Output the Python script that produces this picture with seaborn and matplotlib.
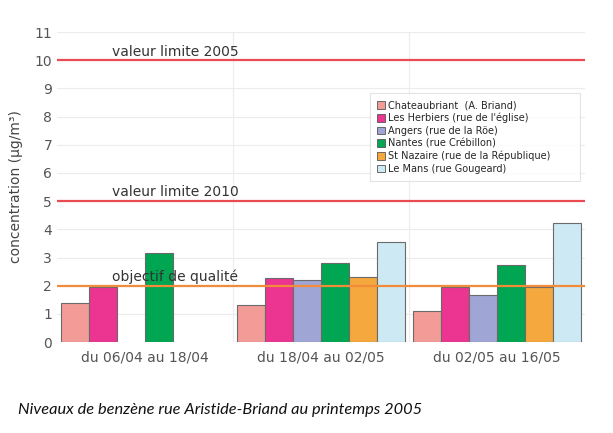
import pandas as pd
import matplotlib.pyplot as plt
import seaborn as sns
from matplotlib.ticker import FixedLocator

periods = ["du 06/04 au 18/04", "du 18/04 au 02/05", "du 02/05 au 16/05"]
sites = [
    "Chateaubriant  (A. Briand)",
    "Les Herbiers (rue de l'église)",
    "Angers (rue de la Röe)",
    "Nantes (rue Crébillon)",
    "St Nazaire (rue de la République)",
    "Le Mans (rue Gougeard)",
]
colors = ["#f29b97", "#eb3590", "#9fa6d6", "#00a651", "#f4a83d", "#cdeaf4"]

# one list per site, None = no measurement
chateaubriant = [1.39, 1.31, 1.09]
herbiers = [1.94, 2.27, 1.97]
angers = [None, 2.22, 1.68]
nantes = [3.16, 2.80, 2.74]
st_nazaire = [None, 2.30, 1.94]
le_mans = [None, 3.55, 4.21]

limits = [10, 5, 2]
limit_labels = ["valeur limite 2005", "valeur limite 2010", "objectif de qualité"]
limit_colors = ["#ea4a52", "#ea4a52", "#f28c3a"]

caption = "Niveaux de benzène rue Aristide-Briand au printemps 2005"

rows = []
for site, vals in zip(sites, [chateaubriant, herbiers, angers, nantes, st_nazaire, le_mans]):
    for p, v in zip(periods, vals):
        if v is not None:
            rows.append({"period": p, "site": site, "value": v})
df = pd.DataFrame(rows)

sns.set_style("white")
plt.rcParams["font.family"] = ["DejaVu Sans"]

fig = plt.figure(figsize=(6.13, 4.33), dpi=100)
ax = fig.add_axes([0.093, 0.21, 0.861, 0.716])

sns.barplot(
    data=df, x="period", y="value", hue="site",
    order=periods, hue_order=sites, palette=colors, saturation=1,
    width=0.955, edgecolor="#6a6a6a", linewidth=0.8,
    errorbar=None, ax=ax, zorder=2,
)

for y, lab, c in zip(limits, limit_labels, limit_colors):
    ax.axhline(y, color=c, lw=1.6, zorder=3)
    ax.text(-0.19, y + 0.06, lab, fontsize=10, color="#333333", ha="left", va="bottom", zorder=4)

ax.set_xlim(-0.5, 2.5)
ax.set_ylim(0, 11)
ax.set_yticks(range(0, 12))
ax.xaxis.set_minor_locator(FixedLocator([0.5, 1.5]))
ax.grid(axis="y", color="#ececec", lw=0.8, zorder=0)
ax.grid(axis="x", which="minor", color="#ececec", lw=0.8, zorder=0)
ax.set_axisbelow(True)
for s in ax.spines.values():
    s.set_visible(False)
ax.tick_params(axis="both", which="both", length=0, labelsize=10, labelcolor="#555555")
ax.tick_params(axis="x", pad=6)
ax.set_xlabel("")
ax.set_ylabel("concentration (µg/m³)", fontsize=10, color="#444444", labelpad=8)

leg = ax.legend(
    loc="upper left", bbox_to_anchor=(0.583, 0.545, 0.417, 0.275), mode="expand",
    fontsize=7, frameon=True, fancybox=False, edgecolor="#dddddd",
    handlelength=0.8, handleheight=0.8, handletextpad=0.3, labelspacing=0.25,
    borderpad=0.8, title=None,
)
leg.get_frame().set_linewidth(0.8)
for h in leg.legend_handles:
    h.set_edgecolor("#555555")
    h.set_linewidth(0.6)

fig.text(0.029, 0.053, caption, fontsize=11.8, style="italic", family=["Lato", "DejaVu Sans"],
         color="#111111", va="center")

fig.savefig("out.png", dpi=100)
